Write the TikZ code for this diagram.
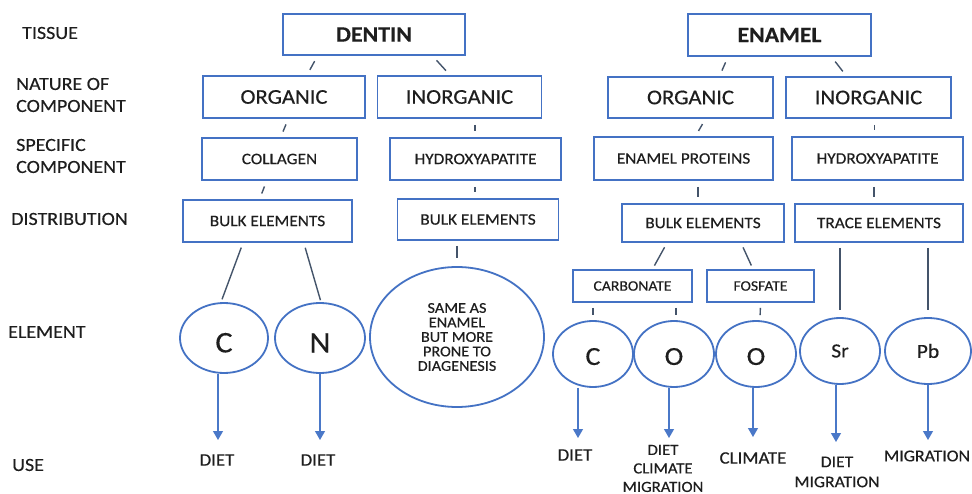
\documentclass[tikz,border=0pt]{standalone}
\usepackage{fontspec}
\setmainfont{Carlito}[FakeStretch=1.08,FakeBold=0.35]
\usetikzlibrary{shapes.geometric,arrows.meta}
\definecolor{boxblue}{HTML}{4472C4}
\definecolor{inkgray}{HTML}{1E1E1E}
\definecolor{linkgray}{HTML}{44546A}
\definecolor{arrowblue}{HTML}{4A78C8}

\begin{document}
\begin{tikzpicture}[x=1pt,y=-1pt,
  every node/.style={text=inkgray, inner sep=0pt},
  box/.style={draw=boxblue, line width=1.8pt, rectangle},
  elem/.style={draw=boxblue, line width=1.8pt, ellipse},
  rowlabel/.style={anchor=west, align=left, font=\fontsize{18.5}{22}\selectfont},
  title/.style={font=\bfseries\fontsize{22}{26}\selectfont},
  big/.style={font=\fontsize{21}{24}\selectfont},
  small/.style={font=\fontsize{16}{19}\selectfont},
  tiny/.style={font=\fontsize{14.5}{17}\selectfont},
  tick/.style={draw=linkgray, line width=1.4pt, shorten <=6pt, shorten >=6pt},
  link/.style={draw=linkgray, line width=1.4pt},
  arr/.style={draw=arrowblue, line width=1.2pt, -{Triangle[width=10pt,length=9pt]}},
  use/.style={align=center, font=\fontsize{17.5}{20}\selectfont}]

\useasboundingbox[fill=white] (0,0) rectangle (972,494);

% row labels
\node[rowlabel] (lTissue) at (22,33) {TISSUE};
\node[rowlabel] (lNature) at (16,95) {NATURE OF\\COMPONENT};
\node[rowlabel] (lSpecific) at (16,156) {SPECIFIC\\COMPONENT};
\node[rowlabel] (lDistrib) at (11,219) {DISTRIBUTION};
\node[rowlabel] (lElement) at (8,332) {ELEMENT};
\node[rowlabel] (lUse) at (12,465) {USE};

% tissues
\node[box, title, minimum width=182pt, minimum height=41pt] (dentin) at (374,34.5) {DENTIN};
\node[box, title, minimum width=183pt, minimum height=42pt] (enamel) at (779.5,35) {ENAMEL};

% nature of component
\node[box, big, minimum width=162pt, minimum height=42pt] (dorg) at (284,97) {ORGANIC};
\node[box, big, minimum width=164pt, minimum height=42pt] (dinorg) at (459.5,97) {INORGANIC};
\node[box, big, minimum width=165pt, minimum height=41pt] (eorg) at (690.5,97.5) {ORGANIC};
\node[box, big, minimum width=165pt, minimum height=41pt] (einorg) at (868.5,97.5) {INORGANIC};

% specific component
\node[box, small, minimum width=155pt, minimum height=42pt] (collagen) at (279.5,159) {COLLAGEN};
\node[box, small, minimum width=171pt, minimum height=42pt] (dhydro) at (475.5,159) {HYDROXYAPATITE};
\node[box, small, minimum width=179pt, minimum height=43pt] (eprot) at (683.5,158.5) {ENAMEL PROTEINS};
\node[box, small, minimum width=171pt, minimum height=43pt] (ehydro) at (877.5,158.5) {HYDROXYAPATITE};

% distribution
\node[box, small, minimum width=169pt, minimum height=42pt] (dbulk1) at (267.5,221) {BULK ELEMENTS};
\node[box, small, minimum width=161pt, minimum height=41pt] (dbulk2) at (478,219.5) {BULK ELEMENTS};
\node[box, small, minimum width=162pt, minimum height=38pt] (ebulk) at (703,223) {BULK ELEMENTS};
\node[box, small, minimum width=168pt, minimum height=38pt] (trace) at (879,223) {TRACE ELEMENTS};

% mineral phases
\node[box, tiny, minimum width=119pt, minimum height=32pt] (carb) at (632.5,286) {CARBONATE};
\node[box, tiny, minimum width=107pt, minimum height=32pt] (fosf) at (760.5,286) {FOSFATE};

% elements
\node[elem, minimum width=88pt, minimum height=70pt, text height=29pt, font=\fontsize{30}{30}\selectfont] (dC) at (224,338) {C};
\node[elem, minimum width=90pt, minimum height=70pt, text height=29pt, font=\fontsize{30}{30}\selectfont] (dN) at (320,338) {N};
\node[elem, minimum width=174pt, minimum height=140pt, align=center, font=\fontsize{15}{14.5}\selectfont] (same) at (457,337) {SAME AS\\ENAMEL\\BUT MORE\\PRONE TO\\DIAGENESIS};
\node[elem, minimum width=80pt, minimum height=66pt, text height=22pt, font=\fontsize{26}{26}\selectfont] (eC) at (593,354) {C};
\node[elem, minimum width=80pt, minimum height=66pt, text height=22pt, font=\fontsize{26}{26}\selectfont] (eO1) at (674,354) {O};
\node[elem, minimum width=80pt, minimum height=66pt, text height=22pt, font=\fontsize{26}{26}\selectfont] (eO2) at (756,354) {O};
\node[elem, minimum width=80pt, minimum height=66pt, font=\fontsize{20}{20}\selectfont] (sr) at (840,351) {Sr};
\node[elem, minimum width=86pt, minimum height=66pt, font=\fontsize{20}{20}\selectfont] (pb) at (928,351) {Pb};

% uses
\node[use] (uC) at (217,460) {DIET};
\node[use] (uN) at (318,460) {DIET};
\node[use] (ueC) at (575,455) {DIET};
\node[use, font=\fontsize{15.5}{18.5}\selectfont] (ueO1) at (663,468.5) {DIET\\CLIMATE\\MIGRATION};
\node[use] (ueO2) at (753,458) {CLIMATE};
\node[use, font=\fontsize{16.3}{20}\selectfont] (usr) at (837,472) {DIET\\MIGRATION};
\node[use, font=\fontsize{16.5}{20}\selectfont] (upb) at (927,456) {MIGRATION};

% short connectors between levels
\draw[tick] ([xshift=-56.5pt]dentin.south) -- ([xshift=23pt]dorg.north);
\draw[tick] ([xshift=58.5pt]dentin.south) -- ([xshift=-9.5pt]dinorg.north);
\draw[tick] ([xshift=-51.5pt]enamel.south) -- ([xshift=29pt]eorg.north);
\draw[tick] ([xshift=52pt]enamel.south) -- ([xshift=-22pt]einorg.north);
\draw[tick] ([xshift=4.3pt]dorg.south) -- ([xshift=1.2pt]collagen.north);
\draw[tick] ([xshift=15.5pt]dinorg.south) -- ([xshift=-0.5pt]dhydro.north);
\draw[tick] ([xshift=15pt]eorg.south) -- ([xshift=12pt]eprot.north);
\draw[tick] ([xshift=6pt]einorg.south) -- ([xshift=-3pt]ehydro.north);
\draw[tick] ([xshift=-12.8pt]collagen.south) -- ([xshift=-8pt]dbulk1.north);
\draw[tick] ([xshift=-0.5pt]dhydro.south) -- ([xshift=-3pt]dbulk2.north);
\draw[tick] ([xshift=14.5pt]eprot.south) -- ([xshift=-5pt]ebulk.north);
\draw[tick] ([xshift=-3.5pt]ehydro.south) -- ([xshift=-5pt]trace.north);
\draw[tick, shorten <=5pt, shorten >=5pt] ([xshift=-39.5pt]carb.south) -- (eC.north);
\draw[tick, shorten <=5pt, shorten >=5pt] ([xshift=43.5pt]carb.south) -- ([xshift=2pt]eO1.north);
\draw[tick, shorten <=5pt, shorten >=5pt] (fosf.south) -- ([xshift=4pt]eO2.north);

% longer connectors down to the elements
\draw[link, shorten <=5pt, shorten >=3pt] ([xshift=-24.5pt]dbulk1.south) -- ([xshift=-3pt]dC.north);
\draw[link, shorten <=5pt, shorten >=2pt] ([xshift=36.3pt]dbulk1.south) -- ([xshift=1pt]dN.north);
\draw[link, shorten <=5pt, shorten >=8pt] ([xshift=-21pt]dbulk2.south) -- (same.north);
\draw[link, shorten <=5pt, shorten >=4pt] ([xshift=-36pt]ebulk.south) -- ([xshift=20pt]carb.north);
\draw[link, shorten <=5pt, shorten >=4pt] ([xshift=38pt]ebulk.south) -- ([xshift=-7.5pt]fosf.north);
\draw[link, shorten <=5pt, shorten >=7pt] ([xshift=-39pt]trace.south) -- (sr.north);
\draw[link, shorten <=5pt, shorten >=7pt] ([xshift=49pt]trace.south) -- (pb.north);

% arrows to the uses
\coordinate (tC) at (218,440);
\coordinate (tN) at (320,440);
\coordinate (teC) at (578,438);
\coordinate (teO1) at (669,438);
\coordinate (teO2) at (753,437);
\coordinate (tSr) at (836,442);
\coordinate (tPb) at (928,440);
\draw[arr] (dC.south -| tC) -- (tC);
\draw[arr] (dN.south -| tN) -- (tN);
\draw[arr] (eC.south -| teC) -- (teC);
\draw[arr] (eO1.south -| teO1) -- (teO1);
\draw[arr] (eO2.south -| teO2) -- (teO2);
\draw[arr] (sr.south -| tSr) -- (tSr);
\draw[arr] (pb.south -| tPb) -- (tPb);
\end{tikzpicture}
\end{document}
